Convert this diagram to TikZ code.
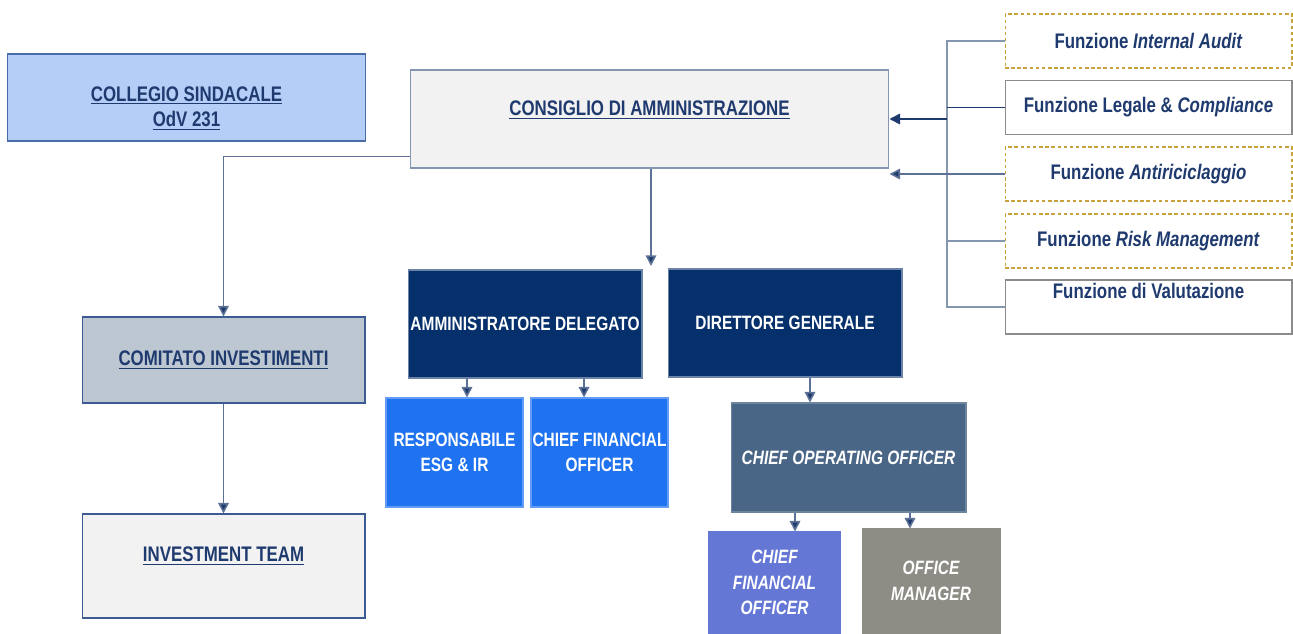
\documentclass[tikz,border=0pt]{standalone}
\usepackage{fontspec}
\setmainfont{Liberation Sans}
\newfontfamily\narrowfont[FakeStretch=0.8]{Liberation Sans}
\usepackage{tikz}
\usetikzlibrary{arrows.meta,positioning}

\definecolor{navytext}{HTML}{1F3A6E}
\definecolor{linkgray}{HTML}{8596B0}
\definecolor{navyline}{HTML}{1F3A6E}
\definecolor{darknavy}{HTML}{06306B}
\definecolor{brightblue}{HTML}{1F72F0}
\definecolor{cooblue}{HTML}{4A6686}
\definecolor{lilac}{HTML}{6577D5}
\definecolor{taupe}{HTML}{8E8D85}
\definecolor{skyfill}{HTML}{B4CEF8}
\definecolor{paleborder}{HTML}{4A6CA8}
\definecolor{lightgray}{HTML}{F2F2F2}
\definecolor{steelgray}{HTML}{BDC7D1}
\definecolor{boxborder}{HTML}{3B5B92}
\definecolor{gold}{HTML}{C9A23C}
\definecolor{framegray}{HTML}{8C8C8C}

\tikzset{
  box/.style={draw, line width=0.6pt, inner sep=0pt, font=\narrowfont\bfseries\fontsize{12}{14.4}\selectfont, align=center},
  whitebox/.style={box, text=white, font=\narrowfont\bfseries\fontsize{11}{14.6}\selectfont},
  boardbox/.style={box, text=navytext},
  darkbox/.style={whitebox, draw=darknavy!60, fill=darknavy},
  bluebox/.style={whitebox, draw=brightblue!70, fill=brightblue, minimum width=2.74cm, minimum height=2.18cm},
  dashfunc/.style={box, draw=gold, dashed, dash pattern=on 2pt off 1.5pt, text=navytext, minimum width=5.74cm, minimum height=1.08cm},
  solidfunc/.style={box, draw=framegray, text=navytext, minimum width=5.74cm, minimum height=1.08cm},
  boxtext/.style={inner sep=0pt, font=\narrowfont\bfseries\fontsize{12}{14.6}\selectfont, align=center, text=navytext},
  link/.style={draw=linkgray, line width=0.9pt},
  arr/.style={link, draw=linkgray!60!navyline, arrows={-{Triangle[width=6pt,length=6pt,fill=navyline]}}},
  navyarr/.style={draw=navyline, line width=0.9pt, -{Triangle[width=6pt,length=6pt]}}
}

\begin{document}
\begin{tikzpicture}[x=0.02cm, y=-0.02cm]
\useasboundingbox (0,0) rectangle (1293,633);

% left column
\node[boardbox, draw=paleborder, fill=skyfill, minimum width=7.18cm, minimum height=1.74cm] (cs) at (186.5,97.5) {};
\node[boxtext] (cstext) at ([yshift=-0.22cm]cs.center) {\underline{COLLEGIO SINDACALE}\\\underline{OdV 231}};
\node[boardbox, draw=boxborder, fill=steelgray, minimum width=5.66cm, minimum height=1.72cm] (ci) at (223.5,360) {\underline{COMITATO INVESTIMENTI}};
\node[boardbox, draw=boxborder, fill=lightgray, minimum width=5.66cm, minimum height=2.08cm] (it) at (223.5,566) {};
\node[boxtext] (ittext) at ([yshift=0.2cm]it.center) {\underline{INVESTMENT TEAM}};

% board
\node[boardbox, draw=linkgray, fill=lightgray, minimum width=9.58cm, minimum height=1.96cm] (cda) at (649.5,119) {};
\node[boxtext] (cdatext) at ([yshift=0.18cm]cda.center) {\underline{CONSIGLIO DI AMMINISTRAZIONE}};

% executives
\node[darkbox, minimum width=4.68cm, minimum height=2.16cm] (ad) at (525,324) {AMMINISTRATORE DELEGATO};
\node[darkbox, minimum width=4.68cm, minimum height=2.16cm] (dg) at (785,323) {DIRETTORE GENERALE};
\node[bluebox] (resp) at (454.5,452.5) {RESPONSABILE\\ESG \& IR};
\node[bluebox] (cfo) at (599.5,452.5) {CHIEF FINANCIAL\\OFFICER};
\node[whitebox, draw=cooblue!80, fill=cooblue, minimum width=4.70cm, minimum height=2.18cm] (coo) at (848.5,457.5) {\itshape CHIEF OPERATING OFFICER};
\node[whitebox, draw=lilac, fill=lilac, minimum width=2.62cm, minimum height=2.02cm] (cfoops) at (774.5,582.5) {\itshape CHIEF\\\itshape FINANCIAL\\\itshape OFFICER};
\node[whitebox, draw=taupe, fill=taupe, minimum width=2.76cm, minimum height=2.08cm] (om) at (931,581) {\itshape OFFICE\\\itshape MANAGER};

% control functions
\node[dashfunc] (ia) at (1148.5,41) {Funzione \textit{Internal Audit}};
\node[solidfunc] (leg) at (1148.5,107.5) {Funzione Legale \& \textit{Compliance}};
\node[dashfunc] (aml) at (1148.5,174) {Funzione \textit{Antiriciclaggio}};
\node[dashfunc] (risk) at (1148.5,241) {Funzione \textit{Risk Management}};
\node[solidfunc] (val) at (1148.5,307) {Funzione di Valutazione\\\strut};

\coordinate (busbot) at (947,307);
\coordinate (busmid) at (947,119);
\coordinate (cdadown) at (651,266);

% connectors
\draw[arr] ([yshift=0.24cm]cda.south west) -| (ci.north);
\draw[arr] (ci.south) -- (it.north);
\draw[arr] (cda.south -| cdadown) -- (cdadown);
\draw[arr] ([xshift=0.25cm]resp.north |- ad.south) -- ([xshift=0.25cm]resp.north);
\draw[arr] ([xshift=-0.31cm]cfo.north |- ad.south) -- ([xshift=-0.31cm]cfo.north);
\draw[arr] ([xshift=-0.77cm]coo.north |- dg.south) -- ([xshift=-0.77cm]coo.north);
\draw[arr] ([xshift=0.41cm]cfoops.north |- coo.south) -- ([xshift=0.41cm]cfoops.north);
\draw[arr] ([xshift=-0.42cm]om.north |- coo.south) -- ([xshift=-0.42cm]om.north);

\draw[link] (ia.west) -| (busbot) -- (val.west);
\draw[link] (risk.west) -- (risk.west -| busbot);
\draw[navyline, line width=0.9pt] (leg.west) -- (leg.west -| busbot);
\draw[navyarr] (busmid) -- (cda.east);
\draw[arr] (aml.west) -- (aml.west -| cda.east);

\end{tikzpicture}
\end{document}
